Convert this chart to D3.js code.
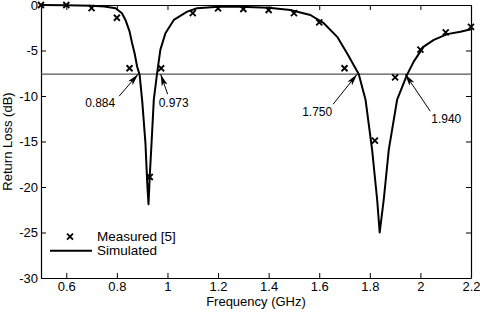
<!DOCTYPE html>
<html>
<head>
<meta charset="utf-8">
<script src="https://cdn.jsdelivr.net/npm/d3@7"></script>
<style>
  body { margin: 0; background: #fff; }
  svg { font-family: "Liberation Sans", Arial, sans-serif; }
  .axis path, .axis line { stroke: #000; }
  .axis text { font-size: 13px; fill: #000; }
</style>
</head>
<body>
<div id="chart"></div>
<script>
// measured return loss (crosses)
const measFreq = [0.5, 0.6, 0.7, 0.8, 0.85, 0.93, 0.975, 1.1, 1.2, 1.3, 1.4, 1.5, 1.6, 1.7, 1.82, 1.9, 2.0, 2.1, 2.2];
const measDb = [0, 0, -0.35, -1.4, -6.95, -18.9, -6.95, -0.9, -0.36, -0.44, -0.55, -0.9, -1.9, -6.95, -14.9, -7.95, -4.9, -3.0, -2.4];

// simulated return loss (line)
const simFreq = [0.5, 0.6, 0.7, 0.75, 0.795, 0.82, 0.834, 0.85, 0.86, 0.87, 0.88, 0.89, 0.9, 0.913, 0.92, 0.925,
  0.93, 0.937, 0.946, 0.959, 0.972, 0.992, 1.025, 1.078, 1.117, 1.2, 1.288, 1.4, 1.486, 1.565, 1.618, 1.671,
  1.71, 1.756, 1.783, 1.809, 1.829, 1.839, 1.855, 1.875, 1.908, 1.947, 1.974, 2.013, 2.053, 2.106, 2.158, 2.2];
const simDb = [0, -0.02, -0.08, -0.16, -0.36, -0.9, -1.64, -2.9, -4.17, -5.3, -6.76, -7.7, -10.5, -15.2, -19.6, -21.9,
  -18.8, -15.2, -10.4, -7.5, -4.9, -3.1, -1.64, -0.73, -0.36, -0.2, -0.18, -0.3, -0.55, -1.1, -2.0, -3.5,
  -5.3, -7.57, -10.4, -15.9, -21.4, -25.0, -21.4, -15.9, -10.4, -7.68, -6.2, -4.57, -3.84, -3.2, -2.93, -2.66];

const refLevel = -7.6;
const markFreq = [0.884, 0.973, 1.750, 1.940];
const markLabels = ['0.884', '0.973', '1.750', '1.940'];

const xTicks = [0.6, 0.8, 1, 1.2, 1.4, 1.6, 1.8, 2, 2.2];
const yTicks = [0, -5, -10, -15, -20, -25, -30];

const width = 480, height = 312;
const margin = { top: 5, right: 9, bottom: 34, left: 41 };
const innerW = width - margin.left - margin.right;
const innerH = height - margin.top - margin.bottom;

const x = d3.scaleLinear().domain([0.5, 2.2]).range([0, innerW]);
const y = d3.scaleLinear().domain([-30, 0]).range([innerH, 0]);

const svg = d3.select('#chart').append('svg').attr('width', width).attr('height', height);
const defs = svg.append('defs');
defs.append('marker')
  .attr('id', 'arrow')
  .attr('viewBox', '0 0 12 6')
  .attr('refX', 12).attr('refY', 3)
  .attr('markerWidth', 12).attr('markerHeight', 6)
  .attr('markerUnits', 'userSpaceOnUse')
  .attr('orient', 'auto')
  .append('path').attr('d', 'M0,0 L12,3 L0,6 L3,3 Z').attr('fill', '#000');

const g = svg.append('g').attr('transform', `translate(${margin.left},${margin.top})`);

// axes, ticks pointing inward on every side
const fmt = d => String(d);
g.append('g').attr('class', 'axis')
  .attr('transform', `translate(0,${innerH})`)
  .call(d3.axisBottom(x).tickValues(xTicks).tickFormat(fmt).tickSizeInner(-5).tickSizeOuter(0).tickPadding(4));
g.append('g').attr('class', 'axis')
  .call(d3.axisTop(x).tickValues(xTicks).tickFormat('').tickSizeInner(-5).tickSizeOuter(0));
g.append('g').attr('class', 'axis')
  .call(d3.axisLeft(y).tickValues(yTicks).tickFormat(fmt).tickSizeInner(-5).tickSizeOuter(0).tickPadding(3));
g.append('g').attr('class', 'axis')
  .attr('transform', `translate(${innerW},0)`)
  .call(d3.axisRight(y).tickValues(yTicks).tickFormat('').tickSizeInner(-5).tickSizeOuter(0));
g.selectAll('.axis .domain').attr('stroke-width', 1.2);

// reference level
g.append('line')
  .attr('x1', 0).attr('x2', innerW)
  .attr('y1', y(refLevel)).attr('y2', y(refLevel))
  .attr('stroke', '#555').attr('stroke-width', 1.2);

// simulated
const simData = simFreq.map((f, i) => ({ f, v: simDb[i] }));
g.append('path')
  .datum(simData)
  .attr('fill', 'none')
  .attr('stroke', '#000')
  .attr('stroke-width', 2)
  .attr('stroke-linejoin', 'round')
  .attr('d', d3.line().x(d => x(d.f)).y(d => y(d.v)));

// measured crosses
const cross = 3;
const measData = measFreq.map((f, i) => ({ f, v: measDb[i] }));
g.selectAll('.meas')
  .data(measData)
  .join('path')
  .attr('class', 'meas')
  .attr('transform', d => `translate(${x(d.f)},${y(d.v)})`)
  .attr('d', `M${-cross},${-cross}L${cross},${cross}M${-cross},${cross}L${cross},${-cross}`)
  .attr('stroke', '#000').attr('stroke-width', 1.8);

// annotations: label offsets relative to crossing point
const labelPos = [
  { tx: -53, ty: 33, tailX: -19, tailY: 22 },
  { tx: -2, ty: 33, tailX: 7, tailY: 20 },
  { tx: -55, ty: 42, tailX: -24, tailY: 30 },
  { tx: 26, ty: 49, tailX: 25, tailY: 37 },
];
markFreq.forEach((f, i) => {
  const px = x(f), py = y(refLevel), p = labelPos[i];
  g.append('line')
    .attr('x1', px + p.tailX).attr('y1', py + p.tailY)
    .attr('x2', px).attr('y2', py)
    .attr('stroke', '#000').attr('stroke-width', 1)
    .attr('marker-end', 'url(#arrow)');
  g.append('text')
    .attr('x', px + p.tx).attr('y', py + p.ty)
    .attr('font-size', 12)
    .text(markLabels[i]);
});

// legend
const lg = g.append('g');
lg.append('path')
  .attr('transform', `translate(${70 - margin.left},${236.7 - margin.top})`)
  .attr('d', `M${-cross},${-cross}L${cross},${cross}M${-cross},${cross}L${cross},${-cross}`)
  .attr('stroke', '#000').attr('stroke-width', 1.8);
lg.append('text').attr('x', 97 - margin.left).attr('y', 236.7 - margin.top).attr('dy', '0.35em')
  .attr('font-size', 13.5).text('Measured [5]');
lg.append('line')
  .attr('x1', 50 - margin.left).attr('x2', 92 - margin.left)
  .attr('y1', 250.7 - margin.top).attr('y2', 250.7 - margin.top)
  .attr('stroke', '#000').attr('stroke-width', 2);
lg.append('text').attr('x', 97 - margin.left).attr('y', 250.7 - margin.top).attr('dy', '0.35em')
  .attr('font-size', 13.5).text('Simulated');

// axis titles
svg.append('text')
  .attr('x', margin.left + innerW / 2).attr('y', 306)
  .attr('text-anchor', 'middle').attr('font-size', 13)
  .text('Frequency (GHz)');
svg.append('text')
  .attr('transform', `translate(12,${margin.top + innerH / 2}) rotate(-90)`)
  .attr('text-anchor', 'middle').attr('font-size', 13)
  .text('Return Loss (dB)');
</script>
</body>
</html>
